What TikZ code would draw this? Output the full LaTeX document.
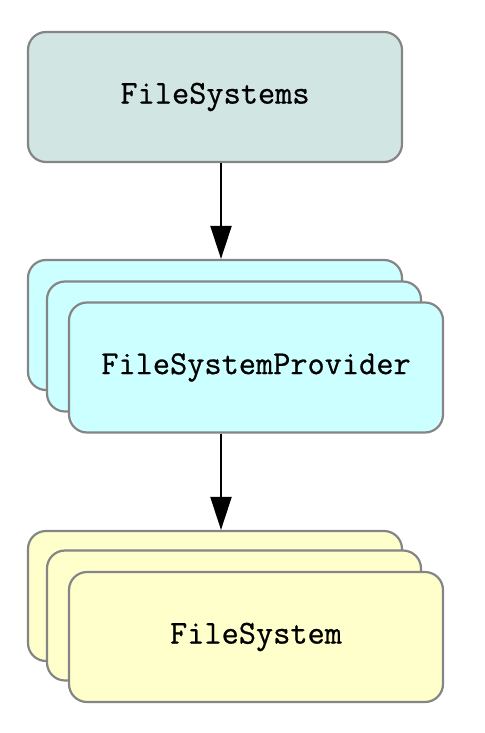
\documentclass[tikz,border=0pt]{standalone}
\usepackage{fontspec}
\newfontfamily\boxfont{Latin Modern Mono}[FakeBold=0.7]
\usetikzlibrary{arrows.meta}
\definecolor{topfill}{HTML}{D1E6E3}
\definecolor{provfill}{HTML}{CCFFFF}
\definecolor{fsfill}{HTML}{FFFFCC}
\definecolor{edge}{HTML}{858585}
\tikzset{
  box/.style={draw=edge, line width=2.2bp, rounded corners=18bp, minimum width=374bp,
    minimum height=130bp, inner sep=0pt, font=\boxfont\bfseries\fontsize{33.5}{35}\selectfont},
  arr/.style={line width=2.2bp, -{Triangle[length=33bp,width=21bp]}}
}
\begin{document}
\begin{tikzpicture}[x=1bp,y=-1bp]
\useasboundingbox (0,0) rectangle (485,733);
\node[box, fill=topfill] (fs) at (215,97) {FileSystems};
\node[box, fill=provfill] (p1) at (215,325) {};
\node[box, fill=provfill] (p2) at (234,346.5) {};
\node[box, fill=provfill] (p3) at (256,367.5) {FileSystemProvider};
\node[box, fill=fsfill] (f1) at (215,596) {};
\node[box, fill=fsfill] (f2) at (234,615.5) {};
\node[box, fill=fsfill] (f3) at (256,637) {FileSystem};
\draw[arr] ([xshift=6bp]fs.south) -- ([xshift=6bp]p1.north);
\draw[arr] ([xshift=6bp]p1.north |- p3.south) -- ([xshift=6bp]f1.north);
\end{tikzpicture}
\end{document}
